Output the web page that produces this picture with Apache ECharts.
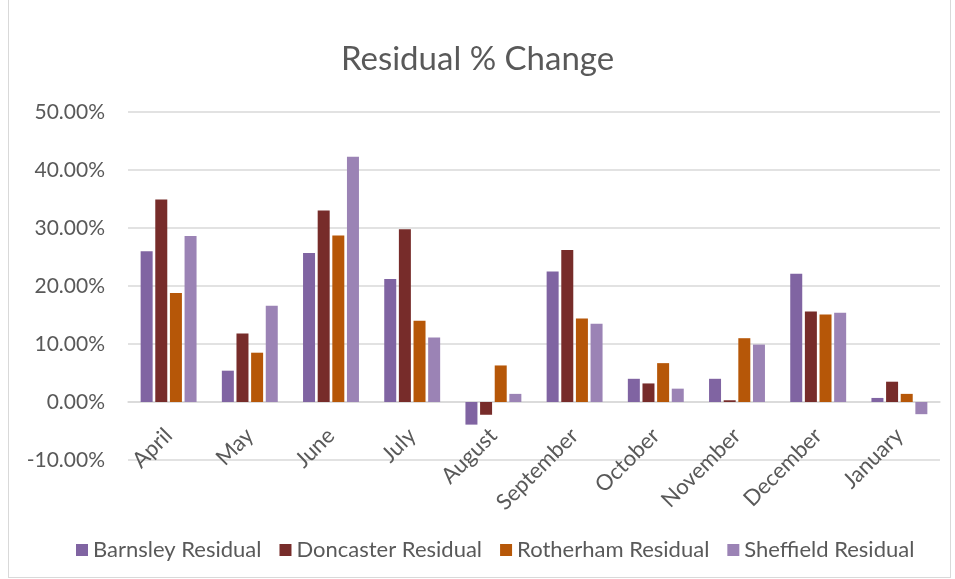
<!DOCTYPE html>
<html>
<head>
<meta charset="utf-8">
<script src="https://cdn.jsdelivr.net/npm/echarts@6/dist/echarts.min.js"></script>
<style>
  html, body { margin: 0; padding: 0; background: #fff; }
  #frame { position: absolute; left: 8px; top: 0; width: 941px; height: 577px; border: 1px solid #d9d9d9; border-top: none; }
  #main { width: 955px; height: 579px; }
</style>
</head>
<body>
<div id="frame"></div>
<div id="main"></div>
<script>
// months
var categories = ['April', 'May', 'June', 'July', 'August', 'September', 'October', 'November', 'December', 'January']

// residual % change by area
var barnsley = [26.0, 5.4, 25.7, 21.2, -3.9, 22.5, 4.0, 4.0, 22.1, 0.7]
var doncaster = [34.9, 11.8, 33.0, 29.8, -2.2, 26.2, 3.2, 0.3, 15.6, 3.5]
var rotherham = [18.8, 8.5, 28.7, 14.0, 6.3, 14.4, 6.7, 11.0, 15.1, 1.4]
var sheffield = [28.6, 16.6, 42.3, 11.1, 1.4, 13.5, 2.3, 9.9, 15.4, -2.1]

var seriesNames = ['Barnsley Residual', 'Doncaster Residual', 'Rotherham Residual', 'Sheffield Residual']
var colors = ['#8064a2', '#772c2a', '#b65708', '#9b83b5']

var font = 'Lato'
var myChart = echarts.init(document.getElementById('main'))

var mkSeries = function (name, data, i) {
    return {
        name: name,
        type: 'bar',
        data: data,
        barWidth: 12,
        barGap: '22%',
        itemStyle: { color: colors[i] }
    }
}

var option = {
    animation: false,
    title: {
        text: 'Residual % Change',
        left: 'center',
        top: 38,
        textStyle: { fontFamily: font, fontSize: 33, fontWeight: 'normal', color: '#595959' }
    },
    legend: {
        bottom: 13,
        left: 71,
        itemWidth: 12,
        itemHeight: 12,
        itemGap: 18,
        icon: 'rect',
        textStyle: { fontFamily: font, fontSize: 22, color: '#595959' },
        data: seriesNames
    },
    grid: { left: 128, right: 15, top: 112, bottom: 119, containLabel: false },
    xAxis: {
        type: 'category',
        data: categories,
        axisLine: { onZero: true, lineStyle: { color: '#d9d9d9', width: 1.5 } },
        axisTick: { show: false },
        axisLabel: { rotate: 45, fontFamily: font, fontSize: 22, color: '#595959', margin: -28 }
    },
    yAxis: {
        type: 'value',
        min: -10,
        max: 50,
        interval: 10,
        axisLine: { show: false },
        axisTick: { show: false },
        splitLine: { lineStyle: { color: '#d9d9d9', width: 1.5 } },
        axisLabel: {
            fontFamily: font, fontSize: 21, color: '#595959', margin: 23,
            formatter: function (v) { return v.toFixed(2) + '%' }
        }
    },
    series: [
        mkSeries(seriesNames[0], barnsley, 0),
        mkSeries(seriesNames[1], doncaster, 1),
        mkSeries(seriesNames[2], rotherham, 2),
        mkSeries(seriesNames[3], sheffield, 3)
    ]
}
myChart.setOption(option)
</script>
</body>
</html>
